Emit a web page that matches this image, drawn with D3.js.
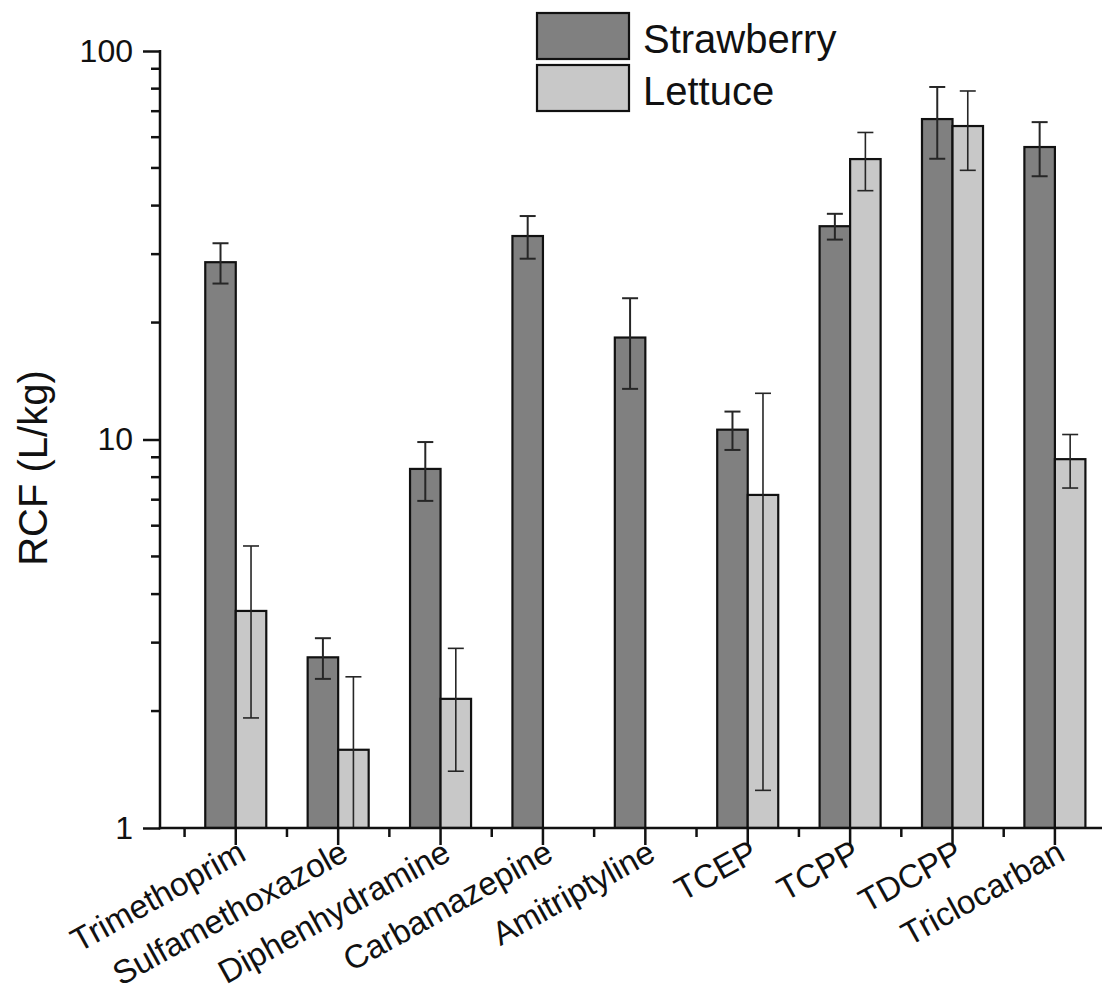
<!DOCTYPE html>
<html>
<head>
<meta charset="utf-8">
<script src="https://cdn.jsdelivr.net/npm/d3@7"></script>
<style>
  html, body { margin: 0; padding: 0; background: #fff; }
  svg { display: block; font-family: Arial, "Liberation Sans", sans-serif; }
</style>
</head>
<body>
<svg id="chart" width="1102" height="996"></svg>
<script>
// Root concentration factors (RCF, L/kg) per compound, mean and error
const compounds = ["Trimethoprim", "Sulfamethoxazole", "Diphenhydramine", "Carbamazepine",
                   "Amitriptyline", "TCEP", "TCPP", "TDCPP", "Triclocarban"];
const strawberryRCF = [28.6, 2.75, 8.4, 33.4, 18.3, 10.6, 35.4, 66.8, 56.6];
const strawberryErr = [3.4, 0.33, 1.45, 4.2, 4.8, 1.2, 2.7, 14.0, 9.0];
const lettuceRCF    = [3.62, 1.59, 2.15, null, null, 7.2, 52.7, 64.1, 8.9];
const lettuceErr    = [1.7, 0.86, 0.75, null, null, 5.95, 9.0, 14.8, 1.4];
const yTickValues   = [1, 10, 100];
const seriesNames   = ["Strawberry", "Lettuce"];
const seriesColors  = ["#808080", "#c8c8c8"];

const svg = d3.select("#chart");
const plot = { left: 160, right: 1102, top: 51, bottom: 828 };

const x = d3.scaleLinear().domain([-0.74, 8.46]).range([plot.left, plot.right]);
const y = d3.scaleLog().domain([1, 100]).range([plot.bottom, plot.top]);
const barW = x(0.298) - x(0);

const series = [
  { name: seriesNames[0], values: strawberryRCF, errs: strawberryErr, color: seriesColors[0], side: -1, errW: 2 },
  { name: seriesNames[1], values: lettuceRCF,    errs: lettuceErr,    color: seriesColors[1], side: 0,  errW: 1.6 }
];

svg.append("clipPath").attr("id", "plotClip")
  .append("rect").attr("x", plot.left).attr("y", 0)
  .attr("width", plot.right - plot.left).attr("height", plot.bottom);

const gBars = svg.append("g").attr("clip-path", "url(#plotClip)");

series.forEach(s => {
  const pts = compounds.map((c, i) => ({ i, v: s.values[i], e: s.errs[i] })).filter(d => d.v != null);
  gBars.append("g").selectAll("rect").data(pts).join("rect")
    .attr("x", d => x(d.i) + s.side * barW)
    .attr("y", d => y(d.v))
    .attr("width", barW)
    .attr("height", d => y(1) - y(d.v))
    .attr("fill", s.color)
    .attr("stroke", "#111")
    .attr("stroke-width", 2.2);
});

// error bars drawn on top of the bars
series.forEach(s => {
  const pts = compounds.map((c, i) => ({ i, v: s.values[i], e: s.errs[i] })).filter(d => d.v != null);
  const g = gBars.append("g").attr("stroke", "#262626").attr("stroke-width", s.errW).attr("fill", "none");
  pts.forEach(d => {
    const cx = x(d.i) + s.side * barW + barW / 2;
    const hi = d.v + d.e;
    const lo = d.v - d.e;
    const yHi = y(hi);
    const yLo = lo > 0 ? y(lo) : plot.bottom + 10;
    g.append("line").attr("x1", cx).attr("x2", cx).attr("y1", yHi).attr("y2", yLo);
    g.append("line").attr("x1", cx - 8).attr("x2", cx + 8).attr("y1", yHi).attr("y2", yHi);
    if (lo > 1) g.append("line").attr("x1", cx - 8).attr("x2", cx + 8).attr("y1", yLo).attr("y2", yLo);
  });
});

// y axis (log): major ticks with labels, minor ticks at 2..9
const minorY = [];
for (let dec = 1; dec < 100; dec *= 10) for (let k = 2; k <= 9; k++) minorY.push(k * dec);

const yAxis = svg.append("g").attr("transform", `translate(${plot.left},0)`);
yAxis.call(d3.axisLeft(y).tickValues(yTickValues).tickSize(17).tickPadding(10).tickFormat(d3.format("d")));
yAxis.selectAll(".tick text").attr("font-size", 32).attr("fill", "#111").attr("font-family", "Arial, 'Liberation Sans', sans-serif");
yAxis.selectAll(".tick line").attr("stroke", "#111").attr("stroke-width", 2.5);
yAxis.select(".domain").remove();
yAxis.selectAll("line.minor").data(minorY).join("line").attr("class", "minor")
  .attr("x1", -9).attr("x2", 0).attr("y1", d => y(d)).attr("y2", d => y(d))
  .attr("stroke", "#111").attr("stroke-width", 2.5);
yAxis.append("line").attr("x1", 0).attr("x2", 0).attr("y1", plot.top - 1).attr("y2", plot.bottom + 1.2)
  .attr("stroke", "#111").attr("stroke-width", 2.5);

// x axis: category ticks at centres, minor ticks between categories
const xAxis = svg.append("g").attr("transform", `translate(0,${plot.bottom})`);
xAxis.append("line").attr("x1", plot.left - 1.2).attr("x2", plot.right).attr("y1", 0).attr("y2", 0)
  .attr("stroke", "#111").attr("stroke-width", 2.5);
xAxis.selectAll("line.major").data(compounds).join("line").attr("class", "major")
  .attr("x1", (d, i) => x(i)).attr("x2", (d, i) => x(i)).attr("y1", 0).attr("y2", 17)
  .attr("stroke", "#111").attr("stroke-width", 2.5);
xAxis.selectAll("line.minor").data(d3.range(-0.5, 8.5, 1)).join("line").attr("class", "minor")
  .attr("x1", d => x(d)).attr("x2", d => x(d)).attr("y1", 0).attr("y2", 9)
  .attr("stroke", "#111").attr("stroke-width", 2.5);
xAxis.selectAll("text").data(compounds).join("text")
  .attr("transform", (d, i) => `translate(${x(i) + 12},31) rotate(-29)`)
  .attr("text-anchor", "end")
  .attr("font-size", 33)
  .attr("fill", "#111")
  .text(d => d);

// y axis title
svg.append("text")
  .attr("transform", `translate(47,468) rotate(-90)`)
  .attr("text-anchor", "middle")
  .attr("font-size", 40)
  .attr("fill", "#111")
  .text("RCF (L/kg)");

// legend
const legend = svg.append("g");
series.forEach((s, k) => {
  const top = 13 + k * 52;
  legend.append("rect").attr("x", 537).attr("y", top).attr("width", 92).attr("height", 46)
    .attr("fill", s.color).attr("stroke", "#111").attr("stroke-width", 2.2);
  legend.append("text").attr("x", 643).attr("y", top + 40)
    .attr("font-size", 40).attr("fill", "#111").text(s.name);
});
</script>
</body>
</html>
